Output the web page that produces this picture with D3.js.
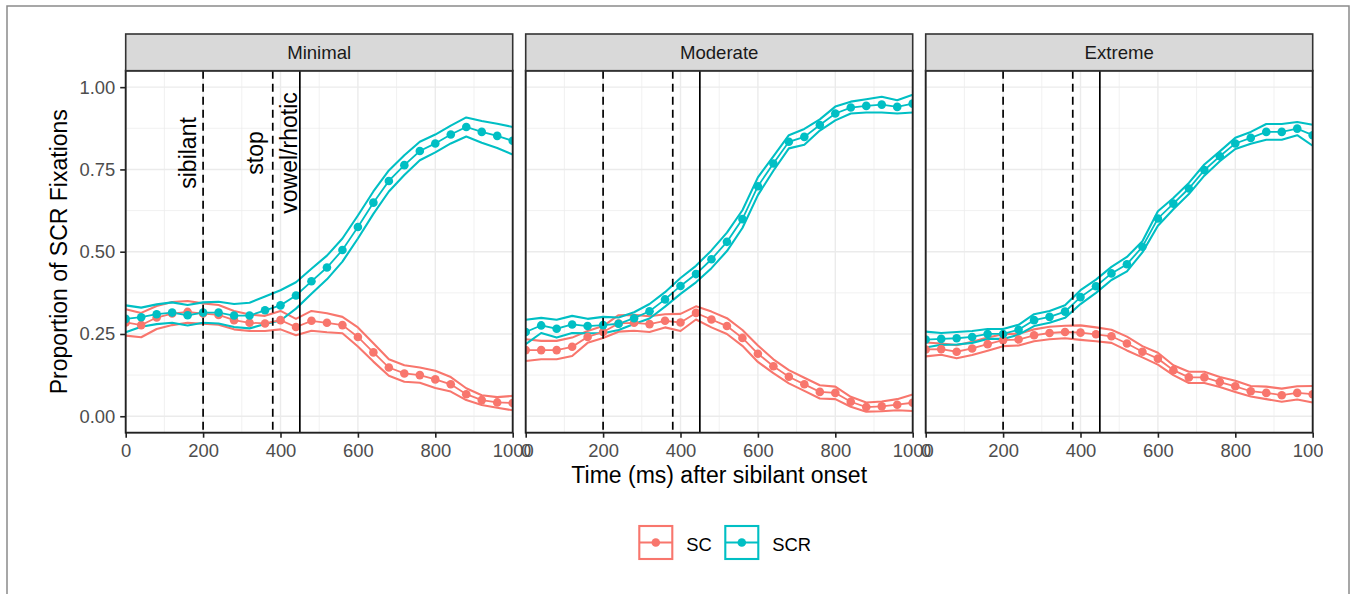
<!DOCTYPE html>
<html><head><meta charset="utf-8">
<script src="https://cdn.jsdelivr.net/npm/d3@7"></script>
<style>
body{margin:0;background:#fff;}
svg{display:block;font-family:"Liberation Sans",Arial,Helvetica,sans-serif;}
</style>
</head><body>
<svg id="chart" width="1357" height="594"></svg>
<script>
// ---------- data ----------
const times = [0,40,80,120,160,200,240,280,320,360,400,440,480,520,560,600,640,680,720,760,800,840,880,920,960,1000];
const panels = ["Minimal","Moderate","Extreme"];
const seriesNames = ["SC","SCR"];
const seriesColors = ["#F8766D","#00BFC4"];

const minimalSC    = [0.285,0.277,0.300,0.312,0.317,0.312,0.308,0.292,0.284,0.282,0.292,0.271,0.290,0.284,0.277,0.241,0.194,0.148,0.130,0.125,0.112,0.097,0.067,0.049,0.042,0.040];
const minimalSCci  = [0.040,0.037,0.035,0.035,0.033,0.031,0.030,0.028,0.025,0.023,0.028,0.025,0.030,0.029,0.025,0.029,0.028,0.025,0.025,0.023,0.026,0.022,0.018,0.015,0.016,0.022];
const minimalSCR   = [0.296,0.301,0.310,0.315,0.307,0.315,0.315,0.306,0.306,0.322,0.337,0.367,0.410,0.452,0.505,0.575,0.649,0.715,0.763,0.806,0.829,0.856,0.879,0.864,0.852,0.837];
const minimalSCRci = [0.041,0.029,0.030,0.031,0.031,0.031,0.033,0.035,0.039,0.042,0.046,0.040,0.038,0.036,0.035,0.035,0.034,0.032,0.030,0.028,0.027,0.027,0.029,0.033,0.037,0.042];

const moderateSC    = [0.201,0.201,0.201,0.211,0.241,0.256,0.282,0.284,0.280,0.290,0.285,0.314,0.294,0.274,0.238,0.190,0.152,0.120,0.097,0.074,0.071,0.044,0.028,0.030,0.035,0.041];
const moderateSCci  = [0.033,0.028,0.028,0.028,0.018,0.018,0.025,0.024,0.024,0.020,0.026,0.020,0.024,0.024,0.024,0.025,0.021,0.020,0.020,0.020,0.019,0.015,0.014,0.015,0.017,0.025];
const moderateSCR   = [0.256,0.276,0.266,0.279,0.274,0.277,0.281,0.298,0.319,0.355,0.396,0.432,0.477,0.530,0.599,0.699,0.768,0.834,0.849,0.885,0.920,0.938,0.943,0.947,0.940,0.950];
const moderateSCRci = [0.037,0.023,0.027,0.026,0.022,0.025,0.019,0.018,0.022,0.022,0.024,0.025,0.027,0.028,0.027,0.027,0.022,0.020,0.024,0.017,0.021,0.018,0.020,0.024,0.020,0.027];

const extremeSC    = [0.203,0.204,0.196,0.206,0.219,0.231,0.233,0.246,0.253,0.256,0.254,0.249,0.243,0.221,0.196,0.175,0.140,0.118,0.118,0.104,0.091,0.076,0.071,0.064,0.071,0.067];
const extremeSCci  = [0.021,0.017,0.020,0.020,0.020,0.018,0.018,0.018,0.019,0.019,0.022,0.021,0.020,0.021,0.017,0.018,0.015,0.017,0.017,0.015,0.017,0.016,0.019,0.020,0.020,0.025];
const extremeSCR   = [0.233,0.235,0.237,0.241,0.250,0.250,0.263,0.292,0.302,0.318,0.362,0.395,0.434,0.462,0.515,0.601,0.646,0.692,0.748,0.790,0.829,0.846,0.864,0.864,0.874,0.854];
const extremeSCRci = [0.024,0.018,0.019,0.018,0.015,0.015,0.015,0.018,0.018,0.019,0.021,0.020,0.020,0.022,0.017,0.022,0.017,0.017,0.017,0.015,0.017,0.018,0.024,0.024,0.020,0.032];

const xTicks = [0,200,400,600,800,1000];
const xMinor = [100,300,500,700,900];
const yTicks = [0,0.25,0.5,0.75,1];
const yTickLabels = ["0.00","0.25","0.50","0.75","1.00"];
const yMinor = [0.125,0.375,0.625,0.875];

const eventTimes = [200,380,450];
const eventDashed = [true,true,false];
const eventLabels = ["sibilant","stop","vowel/rhotic"];
const eventLabelTimes = [182,355,443];
const eventLabelY = 0.80;

const xTitle = "Time (ms) after sibilant onset";
const yTitle = "Proportion of SCR Fixations";

// ---------- assemble ----------
const panelData = [
  [{m:minimalSC, ci:minimalSCci},{m:minimalSCR, ci:minimalSCRci}],
  [{m:moderateSC, ci:moderateSCci},{m:moderateSCR, ci:moderateSCRci}],
  [{m:extremeSC, ci:extremeSCci},{m:extremeSCR, ci:extremeSCRci}]
];

// ---------- layout ----------
const svg = d3.select("#chart");
const P0 = 125.7, PW = 387, GAP = 13;
const PT = 70.7, PB = 432.7, ST = 34;
const y = d3.scaleLinear().domain([-0.05,1.05]).range([PB,PT]);

// outer frame
svg.append("rect").attr("x",7).attr("y",6).attr("width",1342).attr("height",600)
  .attr("fill","none").attr("stroke","#8a8a8a").attr("stroke-width",1.5);

const defs = svg.append("defs");
// figure crop on the right (the reference cuts the last tick label)
defs.append("clipPath").attr("id","figclip").append("rect")
  .attr("x",0).attr("y",0).attr("width",1323).attr("height",594);

panels.forEach((name,pi)=>{
  const left = P0 + pi*(PW+GAP);
  const x = d3.scaleLinear().domain([0,1000]).range([left,left+PW]);
  const g = svg.append("g");
  const clipId = "clip"+pi;
  defs.append("clipPath").attr("id",clipId).append("rect")
    .attr("x",left).attr("y",PT).attr("width",PW).attr("height",PB-PT);

  // panel bg
  g.append("rect").attr("x",left).attr("y",PT).attr("width",PW).attr("height",PB-PT).attr("fill","#fff");
  // grid
  const grid = g.append("g");
  xMinor.forEach(t=>grid.append("line").attr("x1",x(t)).attr("x2",x(t)).attr("y1",PT).attr("y2",PB)
      .attr("stroke","#ebebeb").attr("stroke-width",0.7));
  yMinor.forEach(v=>grid.append("line").attr("x1",left).attr("x2",left+PW).attr("y1",y(v)).attr("y2",y(v))
      .attr("stroke","#ebebeb").attr("stroke-width",0.7));
  xTicks.forEach(t=>grid.append("line").attr("x1",x(t)).attr("x2",x(t)).attr("y1",PT).attr("y2",PB)
      .attr("stroke","#ebebeb").attr("stroke-width",1.4));
  yTicks.forEach(v=>grid.append("line").attr("x1",left).attr("x2",left+PW).attr("y1",y(v)).attr("y2",y(v))
      .attr("stroke","#ebebeb").attr("stroke-width",1.4));

  const data = g.append("g").attr("clip-path",`url(#${clipId})`);
  const line = d3.line().x((d,i)=>x(times[i])).y(d=>y(d));
  // CI lines
  panelData[pi].forEach((s,si)=>{
    const up = s.m.map((v,i)=>v+s.ci[i]);
    const lo = s.m.map((v,i)=>v-s.ci[i]);
    [up,lo].forEach(arr=>data.append("path").attr("d",line(arr)).attr("fill","none")
      .attr("stroke",seriesColors[si]).attr("stroke-width",2.1).attr("stroke-linejoin","round"));
  });
  // mean lines
  panelData[pi].forEach((s,si)=>{
    data.append("path").attr("d",line(s.m)).attr("fill","none")
      .attr("stroke",seriesColors[si]).attr("stroke-width",1.8);
  });
  // points
  panelData[pi].forEach((s,si)=>{
    data.selectAll(null).data(s.m).enter().append("circle")
      .attr("cx",(d,i)=>x(times[i])).attr("cy",d=>y(d)).attr("r",4.3)
      .attr("fill",seriesColors[si]);
  });
  // event lines
  eventTimes.forEach((t,ei)=>{
    data.append("line").attr("x1",x(t)).attr("x2",x(t)).attr("y1",PT).attr("y2",PB)
      .attr("stroke","#000").attr("stroke-width",1.7)
      .attr("stroke-dasharray",eventDashed[ei]?"8,5":null);
  });
  // event labels in first panel
  if(pi===0){
    eventLabels.forEach((lab,ei)=>{
      const tx = x(eventLabelTimes[ei]), ty = y(eventLabelY);
      g.append("text").attr("transform",`translate(${tx},${ty}) rotate(-90)`)
        .attr("text-anchor","middle").attr("font-size",23).attr("fill","#000").text(lab);
    });
  }
  // border
  g.append("rect").attr("x",left).attr("y",PT).attr("width",PW).attr("height",PB-PT)
    .attr("fill","none").attr("stroke","#222").attr("stroke-width",1.9);
  // strip
  g.append("rect").attr("x",left).attr("y",ST).attr("width",PW).attr("height",PT-ST)
    .attr("fill","#d9d9d9").attr("stroke","#333").attr("stroke-width",1.6);
  g.append("text").attr("x",left+PW/2).attr("y",59).attr("text-anchor","middle")
    .attr("font-size",18.6).attr("fill","#1a1a1a").text(name);

  // x axis
  const xAxis = d3.axisBottom(x).tickValues(xTicks).tickSize(5).tickPadding(6).tickFormat(d3.format("d"));
  const ax = svg.append("g").attr("clip-path","url(#figclip)")
    .append("g").attr("transform",`translate(0,${PB})`).call(xAxis);
  ax.select(".domain").remove();
  ax.selectAll(".tick line").attr("stroke","#222").attr("stroke-width",1.6);
  ax.selectAll(".tick text").attr("font-size",18.4).attr("fill","#4d4d4d")
    .attr("font-family","Liberation Sans, Arial, sans-serif").attr("dy","0.71em");
});

// y axis (left panel only)
const yAxis = d3.axisLeft(y).tickValues(yTicks).tickSize(5.5).tickPadding(5)
  .tickFormat((d,i)=>yTickLabels[i]);
const ay = svg.append("g").attr("transform",`translate(${P0},0)`).call(yAxis);
ay.select(".domain").remove();
ay.selectAll(".tick line").attr("stroke","#222").attr("stroke-width",1.6);
ay.selectAll(".tick text").attr("font-size",18.4).attr("fill","#4d4d4d")
  .attr("font-family","Liberation Sans, Arial, sans-serif");

// axis titles
svg.append("text").attr("x",P0 + (3*PW+2*GAP)/2).attr("y",483).attr("text-anchor","middle")
  .attr("font-size",23).attr("fill","#000").text(xTitle);
svg.append("text").attr("transform",`translate(67,${(PT+PB)/2}) rotate(-90)`).attr("text-anchor","middle")
  .attr("font-size",23).attr("fill","#000").text(yTitle);

// legend
const legX = [638.3, 724.3];
const legend = svg.append("g");
seriesNames.forEach((nm,si)=>{
  const lx = legX[si], ly = 525, ks = 35;
  legend.append("rect").attr("x",lx+1).attr("y",ly+1).attr("width",ks-2).attr("height",ks-2)
    .attr("fill","#fff").attr("stroke",seriesColors[si]).attr("stroke-width",2.1);
  legend.append("line").attr("x1",lx+1).attr("x2",lx+ks-1).attr("y1",ly+ks/2).attr("y2",ly+ks/2)
    .attr("stroke",seriesColors[si]).attr("stroke-width",1.8);
  legend.append("circle").attr("cx",lx+ks/2).attr("cy",ly+ks/2).attr("r",4.3).attr("fill",seriesColors[si]);
  legend.append("text").attr("x",lx+ks+13).attr("y",550.7).attr("font-size",18.4).attr("fill","#000").text(nm);
});
</script>
</body></html>
